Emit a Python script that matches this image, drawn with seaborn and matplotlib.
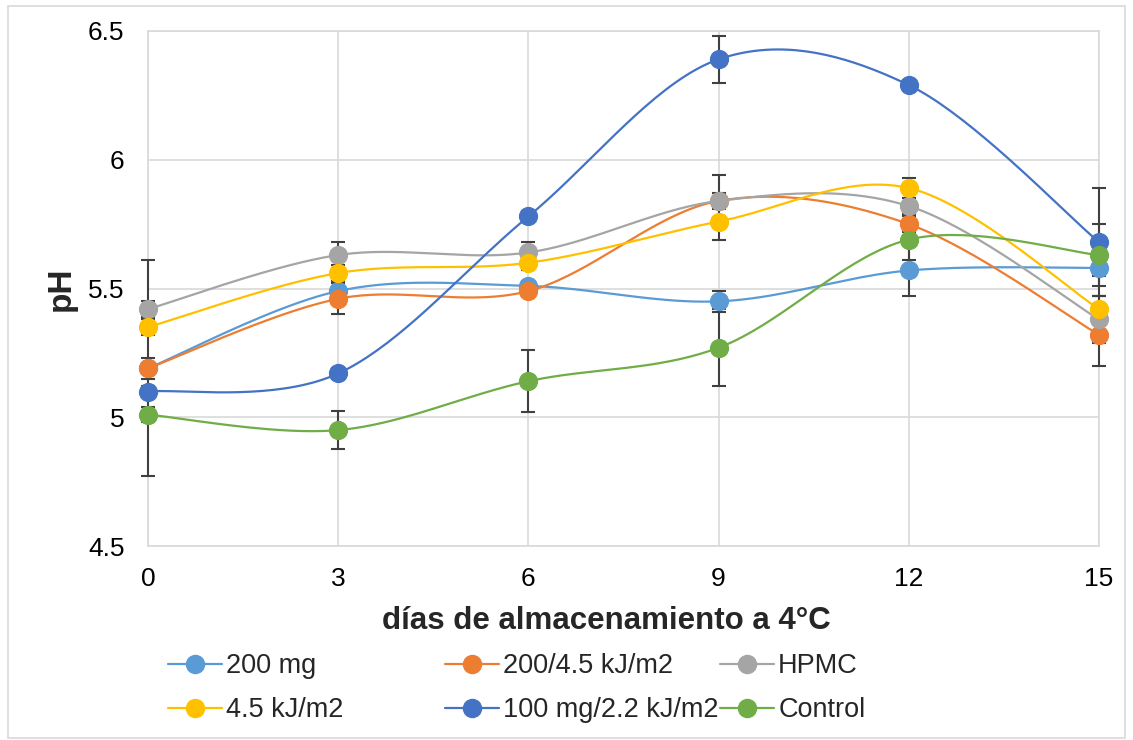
import numpy as np
import pandas as pd
import matplotlib
matplotlib.use("Agg")
import matplotlib.pyplot as plt
import seaborn as sns
from matplotlib.lines import Line2D

# datos
dias = [0, 3, 6, 9, 12, 15]
series = ["200 mg", "200/4.5 kJ/m2", "HPMC", "4.5 kJ/m2", "100 mg/2.2 kJ/m2", "Control"]
colores = ["#5B9BD5", "#ED7D31", "#A5A5A5", "#FFC000", "#4472C4", "#70AD47"]

ph_200mg = [5.19, 5.49, 5.51, 5.45, 5.57, 5.58]
ph_200_45 = [5.19, 5.46, 5.49, 5.84, 5.75, 5.32]
ph_hpmc = [5.42, 5.63, 5.64, 5.84, 5.82, 5.38]
ph_45 = [5.35, 5.56, 5.60, 5.76, 5.89, 5.42]
ph_100_22 = [5.10, 5.17, 5.78, 6.39, 6.29, 5.68]
ph_control = [5.01, 4.95, 5.14, 5.27, 5.69, 5.63]

err_200mg = [0.42, 0.02, 0.02, 0.04, 0.10, 0.03]
err_200_45 = [0.04, 0.06, 0.02, 0.03, 0.03, 0.12]
err_hpmc = [0.03, 0.05, 0.04, 0.10, 0.03, 0.09]
err_45 = [0.03, 0.03, 0.03, 0.07, 0.04, 0.05]
err_100_22 = [0.02, 0.02, 0.02, 0.09, 0.02, 0.21]
err_control = [0.03, 0.075, 0.12, 0.15, 0.08, 0.12]

valores = [ph_200mg, ph_200_45, ph_hpmc, ph_45, ph_100_22, ph_control]
errores = [err_200mg, err_200_45, err_hpmc, err_45, err_100_22, err_control]


def suavizar(xs, ys, n=40):
    # curva suavizada tipo Excel (Bezier con puntos de control Catmull-Rom)
    p = np.column_stack([xs, ys]).astype(float)
    p_ext = np.vstack([p[0], p, p[-1]])
    out = []
    t = np.linspace(0, 1, n)[:, None]
    for i in range(len(p) - 1):
        p0, p3 = p_ext[i + 1], p_ext[i + 2]
        c1 = p0 + (p_ext[i + 2] - p_ext[i]) / 6
        c2 = p3 - (p_ext[i + 3] - p_ext[i + 1]) / 6
        seg = (1 - t) ** 3 * p0 + 3 * (1 - t) ** 2 * t * c1 + 3 * (1 - t) * t ** 2 * c2 + t ** 3 * p3
        out.append(seg if i == 0 else seg[1:])
    return np.vstack(out)


filas = []
curvas = []
for nombre, ys in zip(series, valores):
    for x, y in zip(dias, ys):
        filas.append({"dia": x, "ph": y, "serie": nombre})
    c = suavizar(dias, ys)
    for k, (cx, cy) in enumerate(c):
        curvas.append({"dia": cx, "ph": cy, "serie": nombre, "orden": k})
df = pd.DataFrame(filas)
df_curva = pd.DataFrame(curvas)

sns.set_style("white")
plt.rcParams["font.family"] = ["Liberation Sans", "DejaVu Sans"]

fig = plt.figure(figsize=(11.33, 7.4), dpi=100)
ax = fig.add_axes([148 / 1133, 1 - 546 / 740, (1099 - 148) / 1133, (546 - 31) / 740])

paleta = dict(zip(series, colores))

for i, (nombre, ys, es) in enumerate(zip(series, valores, errores)):
    ax.errorbar(dias, ys, yerr=es, fmt="none", ecolor="#404040", elinewidth=1.5,
                capsize=5, capthick=1.5, zorder=3 + i * 0.1, clip_on=False)
    sub = df_curva[df_curva["serie"] == nombre]
    sns.lineplot(data=sub, x="dia", y="ph", color=paleta[nombre], sort=False,
                 estimator=None, linewidth=1.6, ax=ax, legend=False,
                 zorder=4 + i * 0.1, clip_on=False)
    pts = df[df["serie"] == nombre]
    sns.scatterplot(data=pts, x="dia", y="ph", color=paleta[nombre], s=170,
                    edgecolor=paleta[nombre], linewidth=0.8, ax=ax, legend=False,
                    zorder=5 + i * 0.1, clip_on=False)

ax.set_xlim(0, 15)
ax.set_ylim(4.5, 6.5)
ax.set_xticks(dias)
ax.set_yticks([4.5, 5, 5.5, 6, 6.5])
ax.set_yticklabels(["4.5", "5", "5.5", "6", "6.5"])
ax.grid(True, color="#D9D9D9", linewidth=1.2)
ax.set_axisbelow(True)
for s in ax.spines.values():
    s.set_color("#D9D9D9")
    s.set_linewidth(1.2)
ax.tick_params(axis="both", length=0, labelsize=19, colors="black")
ax.tick_params(axis="x", pad=15)
ax.tick_params(axis="y", pad=17)
ax.set_xlabel("días de almacenamiento a 4°C", fontsize=22.5, fontweight="bold")
ax.xaxis.set_label_coords((606 - 148) / 951, -(606 - 546) / 515)
ax.set_ylabel("pH", fontsize=24, fontweight="bold")
ax.yaxis.set_label_coords((77 - 148) / 951, 0.5)

# leyenda en tres columnas de ancho fijo
posiciones = [168 / 1133, 445 / 1133, 720 / 1133]
for col in range(3):
    idx = [col, col + 3]
    handles = [Line2D([0], [0], color=colores[j], linewidth=1.6, marker="o",
                      markersize=13, markerfacecolor=colores[j], markeredgecolor=colores[j])
               for j in idx]
    fig.legend(handles, [series[j] for j in idx], loc="upper left",
               bbox_to_anchor=(posiciones[col], 1 - 653 / 740), frameon=False,
               fontsize=19.5, handlelength=2.0, handletextpad=0.15, labelspacing=0.68,
               borderaxespad=0, borderpad=0)

# marco exterior del gráfico
fig.patches.append(plt.Rectangle((8 / 1133, 2 / 740), 1 - 16 / 1133, 1 - 8 / 740,
                                 transform=fig.transFigure, fill=False,
                                 edgecolor="#D9D9D9", linewidth=1.2))

fig.savefig("out.png", dpi=100)
